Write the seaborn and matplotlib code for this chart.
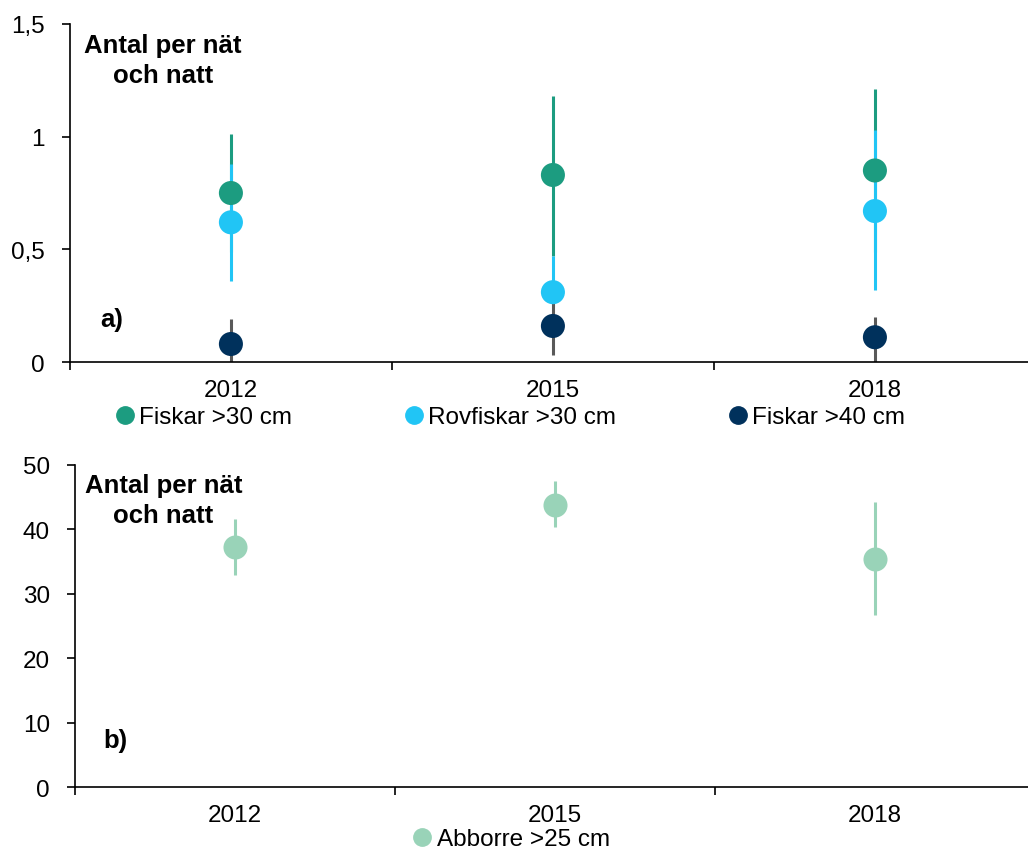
import matplotlib
matplotlib.use("Agg")
import matplotlib.pyplot as plt
import seaborn as sns
import pandas as pd

years = ["2012", "2015", "2018"]

# panel a) - mean and confidence interval per series
fisk30 = [0.75, 0.83, 0.85]
fisk30_lo = [0.49, 0.47, 0.49]
fisk30_hi = [1.01, 1.18, 1.21]

rov30 = [0.62, 0.31, 0.67]
rov30_lo = [0.36, 0.25, 0.32]
rov30_hi = [0.88, 0.47, 1.03]

fisk40 = [0.08, 0.16, 0.11]
fisk40_lo = [0.0, 0.03, 0.0]
fisk40_hi = [0.19, 0.27, 0.20]

# panel b)
abborre = [37.2, 43.8, 35.4]
abborre_lo = [32.9, 40.4, 26.7]
abborre_hi = [41.6, 47.5, 44.3]

sns.set_theme(style="white")
plt.rcParams["font.family"] = ["Liberation Sans", "DejaVu Sans"]
plt.rcParams["text.color"] = "black"
plt.rcParams["xtick.color"] = "black"
plt.rcParams["ytick.color"] = "black"

FS = 17.5
FS_LAB = 18.5
c_green = "#1c9c80"
c_cyan = "#21c5f5"
c_navy = "#00315c"
c_light = "#99d3b8"
c_grey = "#595959"

fig = plt.figure(figsize=(10.28, 8.53), dpi=100)
ax1 = fig.add_axes([0.068, 0.5744, 0.9397, 0.3963])
ax2 = fig.add_axes([0.073, 0.0762, 0.934, 0.3775])

series_a = [
    ("Fiskar >30 cm", fisk30, fisk30_lo, fisk30_hi, c_green, c_green),
    ("Rovfiskar >30 cm", rov30, rov30_lo, rov30_hi, c_cyan, c_cyan),
    ("Fiskar >40 cm", fisk40, fisk40_lo, fisk40_hi, c_navy, c_grey),
]

rows = []
for name, vals, lo, hi, col, ecol in series_a:
    for y, v in zip(years, vals):
        rows.append({"year": y, "value": v, "series": name})
df_a = pd.DataFrame(rows)

for name, vals, lo, hi, col, ecol in series_a:
    ax1.vlines(years, lo, hi, color=ecol, lw=2.2, zorder=2)
sns.scatterplot(data=df_a, x="year", y="value", hue="series",
                palette=[c_green, c_cyan, c_navy], s=300, linewidth=0,
                ax=ax1, zorder=3, legend=False)

df_b = pd.DataFrame({"year": years, "value": abborre})
ax2.vlines(years, abborre_lo, abborre_hi, color=c_light, lw=2.2, zorder=2)
sns.scatterplot(data=df_b, x="year", y="value", color=c_light, s=300,
                linewidth=0, ax=ax2, zorder=3)

for ax in (ax1, ax2):
    ax.set_xlim(-0.5, 2.5)
    ax.set_xlabel("")
    ax.set_ylabel("")
    sns.despine(ax=ax)
    for s in ("left", "bottom"):
        ax.spines[s].set_color("black")
        ax.spines[s].set_linewidth(1.2)
    ax.set_xticks([0, 1, 2])
    ax.set_xticklabels(years, fontsize=FS)
    ax.set_xticks([-0.5, 0.5, 1.5, 2.5], minor=True)
    ax.tick_params(axis="x", which="major", length=0, pad=12)
    ax.tick_params(axis="x", which="minor", length=6, width=1.2,
                   direction="out", color="black", bottom=True)
    ax.tick_params(axis="y", length=6, width=1.2, direction="out",
                   color="black", left=True, labelsize=FS, pad=12)
    ax.grid(False)

ax1.set_ylim(0, 1.5)
ax1.set_yticks([0, 0.5, 1, 1.5])
ax1.set_yticklabels(["0", "0,5", "1", "1,5"])
ax2.set_ylim(0, 50)
ax2.set_yticks([0, 10, 20, 30, 40, 50])

ax1.text(0.096, 0.972, "Antal per nät\noch natt", transform=ax1.transAxes,
         fontsize=FS_LAB, fontweight="bold", ha="center", va="top",
         linespacing=1.3)
ax2.text(0.092, 0.974, "Antal per nät\noch natt", transform=ax2.transAxes,
         fontsize=FS_LAB, fontweight="bold", ha="center", va="top",
         linespacing=1.3)
ax1.text(0.031, 0.127, "a)", transform=ax1.transAxes, fontsize=FS_LAB,
         fontweight="bold", ha="left", va="center")
ax2.text(0.029, 0.146, "b)", transform=ax2.transAxes, fontsize=FS_LAB,
         fontweight="bold", ha="left", va="center")

# legends
handles_a = [plt.Line2D([], [], marker="o", ls="", ms=12.5, color=c, mec=c)
             for c in (c_green, c_cyan, c_navy)]
fig.legend(handles_a, [s[0] for s in series_a], loc="center",
           bbox_to_anchor=(0.495, 1 - 418 / 853), ncol=3, frameon=False,
           fontsize=FS, handletextpad=0.1, columnspacing=4.5,
           handlelength=1.0)
handle_b = [plt.Line2D([], [], marker="o", ls="", ms=12.5, color=c_light,
                       mec=c_light)]
fig.legend(handle_b, ["Abborre >25 cm"], loc="center",
           bbox_to_anchor=(0.496, 1 - 840 / 853), frameon=False,
           fontsize=FS, handletextpad=0.1, handlelength=1.0)

fig.savefig("out.png", dpi=100)
